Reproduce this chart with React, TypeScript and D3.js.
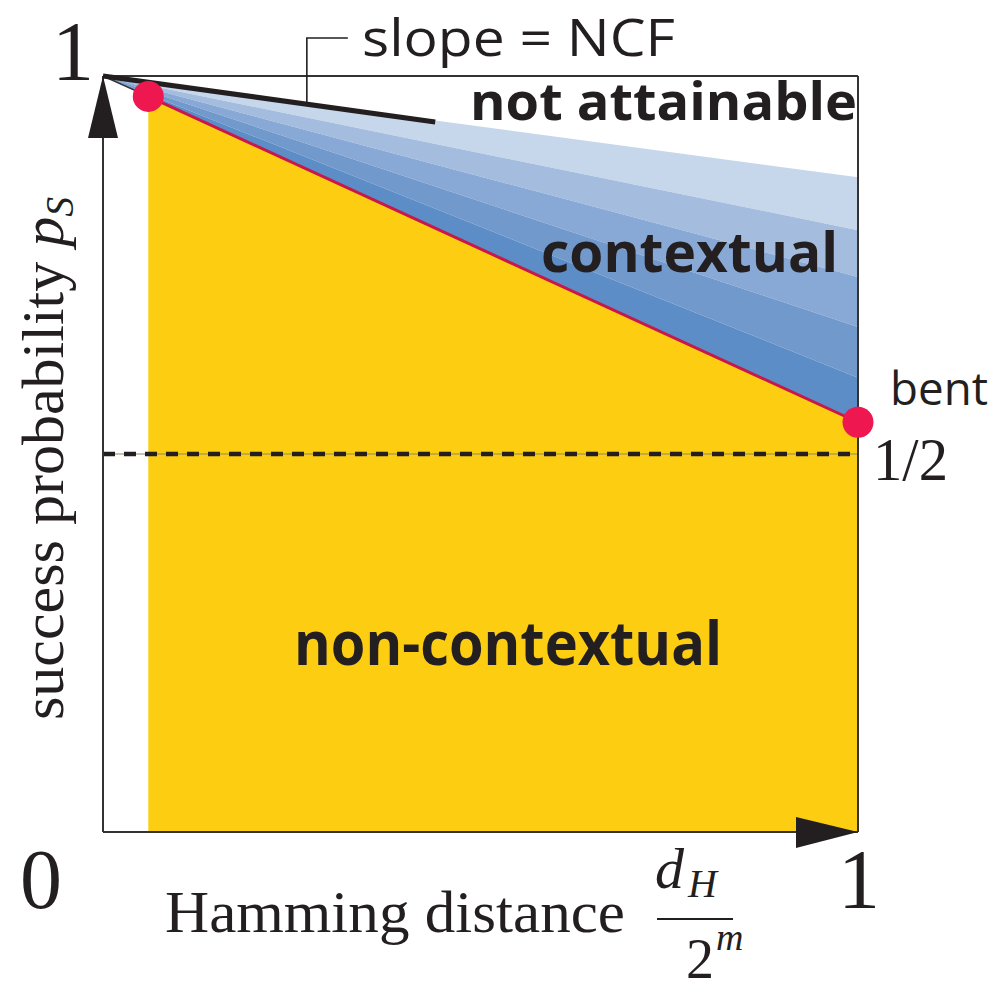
import React from "react";
import * as d3 from "d3";

// Region boundaries at the right edge (x = 1), top to bottom
const bandEdges = [0.866, 0.796, 0.734, 0.668, 0.601, 0.542];
const bandColors = ["#c6d7eb", "#a4bddf", "#88a8d5", "#7199cc", "#5d8dc7"];
const ncfSlope = 0.138;
const ncfEnd = 0.44;
const calloutX = 0.27;
const leftPoint = { x: 0.06, y: 0.973 };
const bentPoint = { x: 1, y: 0.542 };
const halfLevel = 0.5;
const xTickLabels = ["0", "1"];
const yTickLabels = ["1", "1/2"];

const W = 997;
const H = 992;
const INK = "#231f20";
const SANS = "'Open Sans', 'Noto Sans', sans-serif";
const SERIF = "'Liberation Serif', 'DejaVu Serif', serif";

export default function App() {
  const x = d3.scaleLinear().domain([0, 1]).range([103, 858]);
  const y = d3.scaleLinear().domain([0, 1]).range([832, 76]);

  const line = d3
    .line<[number, number]>()
    .x((d) => x(d[0]))
    .y((d) => y(d[1]));
  const poly = (pts: [number, number][]) => line(pts) + "Z";

  const bands = bandColors.map((c, i) => ({
    color: c,
    d: poly([
      [0, 1],
      [1, bandEdges[i]],
      [1, bandEdges[i + 1]],
    ]),
  }));

  const yellow = poly([
    [leftPoint.x, 0],
    [leftPoint.x, leftPoint.y],
    [bentPoint.x, bentPoint.y],
    [1, 0],
  ]);

  const ncfY = (t: number) => 1 - ncfSlope * t;

  return (
    <svg width={W} height={H} style={{ display: "block", position: "absolute", left: 0, top: 0 }}>
      <rect width={W} height={H} fill="#ffffff" />

      {bands.map((b, i) => (
        <path key={i} d={b.d} fill={b.color} />
      ))}
      <path d={yellow} fill="#fccd10" />

      {/* boundary between regions */}
      <path
        d={line([
          [leftPoint.x, leftPoint.y],
          [bentPoint.x, bentPoint.y],
        ])!}
        stroke="#c8174a"
        strokeWidth={3}
        fill="none"
      />
      <path
        d={line([
          [0, 1],
          [leftPoint.x, leftPoint.y],
        ])!}
        stroke="#333"
        strokeWidth={1.5}
        fill="none"
      />

      {/* 1/2 level */}
      <line x1={x(0)} x2={x(1)} y1={y(halfLevel)} y2={y(halfLevel)} stroke="#8a8a6a" strokeWidth={1} />
      <line
        x1={x(0)}
        x2={x(1)}
        y1={y(halfLevel)}
        y2={y(halfLevel)}
        stroke={INK}
        strokeWidth={4.5}
        strokeDasharray="12 9"
      />

      {/* frame */}
      <line x1={x(0)} x2={x(1)} y1={y(1)} y2={y(1)} stroke="#333" strokeWidth={2} />
      <line x1={x(1)} x2={x(1)} y1={y(1)} y2={y(0)} stroke="#333" strokeWidth={2} />
      <line x1={x(0)} x2={x(1)} y1={y(0)} y2={y(0)} stroke="#333" strokeWidth={2} />
      <line x1={x(0)} x2={x(0)} y1={y(1)} y2={y(0)} stroke="#333" strokeWidth={2} />

      {/* NCF slope line and callout */}
      <path
        d={line([
          [0, 1],
          [ncfEnd, ncfY(ncfEnd)],
        ])!}
        stroke={INK}
        strokeWidth={5}
        fill="none"
      />
      <path
        d={`M${x(calloutX) + 41},38 H${x(calloutX)} V${y(ncfY(calloutX))}`}
        stroke={INK}
        strokeWidth={1.6}
        fill="none"
      />

      {/* axis arrows */}
      <path d={`M${x(0)},${y(1)} L${x(0) - 15},${y(1) + 62} L${x(0) + 15},${y(1) + 62}Z`} fill={INK} />
      <path d={`M${x(1)},${y(0)} L${x(1) - 62},${y(0) - 15} L${x(1) - 62},${y(0) + 16}Z`} fill={INK} />

      {/* marked points */}
      <circle cx={x(leftPoint.x)} cy={y(leftPoint.y)} r={15.5} fill="#ee174f" />
      <circle cx={x(bentPoint.x)} cy={y(bentPoint.y)} r={15.5} fill="#ee174f" />

      {/* region labels */}
      <text x={362} y={56} fontFamily={SANS} fontSize={52} fill={INK} textLength={313} lengthAdjust="spacingAndGlyphs">
        slope = NCF
      </text>
      <text x={470} y={120} fontFamily={SANS} fontWeight={700} fontSize={52} fill={INK} textLength={387} lengthAdjust="spacingAndGlyphs">
        not attainable
      </text>
      <text x={541} y={272} fontFamily={SANS} fontWeight={700} fontSize={56} fill={INK} textLength={297} lengthAdjust="spacingAndGlyphs">
        contextual
      </text>
      <text x={294} y={665} fontFamily={SANS} fontWeight={700} fontSize={60} fill={INK} textLength={428} lengthAdjust="spacingAndGlyphs">
        non-contextual
      </text>
      <text x={890} y={405} fontFamily={SANS} fontSize={46} fill={INK} textLength={98} lengthAdjust="spacingAndGlyphs">
        bent
      </text>

      {/* tick labels */}
      <text x={52} y={80} fontFamily={SERIF} fontSize={84} fill={INK}>
        {yTickLabels[0]}
      </text>
      <text x={873} y={480} fontFamily={SERIF} fontSize={62} fill={INK} textLength={75} lengthAdjust="spacingAndGlyphs">
        {yTickLabels[1]}
      </text>
      <text x={20} y={908} fontFamily={SERIF} fontSize={84} fill={INK}>
        {xTickLabels[0]}
      </text>
      <text x={838} y={908} fontFamily={SERIF} fontSize={84} fill={INK}>
        {xTickLabels[1]}
      </text>

      {/* x axis title */}
      <text x={165} y={932} fontFamily={SERIF} fontSize={60} fill={INK} textLength={460} lengthAdjust="spacingAndGlyphs">
        Hamming distance
      </text>
      <text x={655} y={888} fontFamily={SERIF} fontStyle="italic" fontSize={58} fill={INK}>
        d
      </text>
      <text x={688} y={897} fontFamily={SERIF} fontStyle="italic" fontSize={40} fill={INK}>
        H
      </text>
      <line x1={657} x2={733} y1={919} y2={919} stroke={INK} strokeWidth={2} />
      <text x={686} y={978} fontFamily={SERIF} fontSize={56} fill={INK}>
        2
      </text>
      <text x={716} y={950} fontFamily={SERIF} fontStyle="italic" fontSize={38} fill={INK}>
        m
      </text>

      {/* y axis title */}
      <g transform="translate(63,720) rotate(-90)">
        <text x={0} y={0} fontFamily={SERIF} fontSize={60} fill={INK}>
          <tspan>success probability </tspan>
          <tspan fontStyle="italic">p</tspan>
          <tspan fontStyle="italic" fontSize={40} dy={10}>
            S
          </tspan>
        </text>
      </g>
    </svg>
  );
}
